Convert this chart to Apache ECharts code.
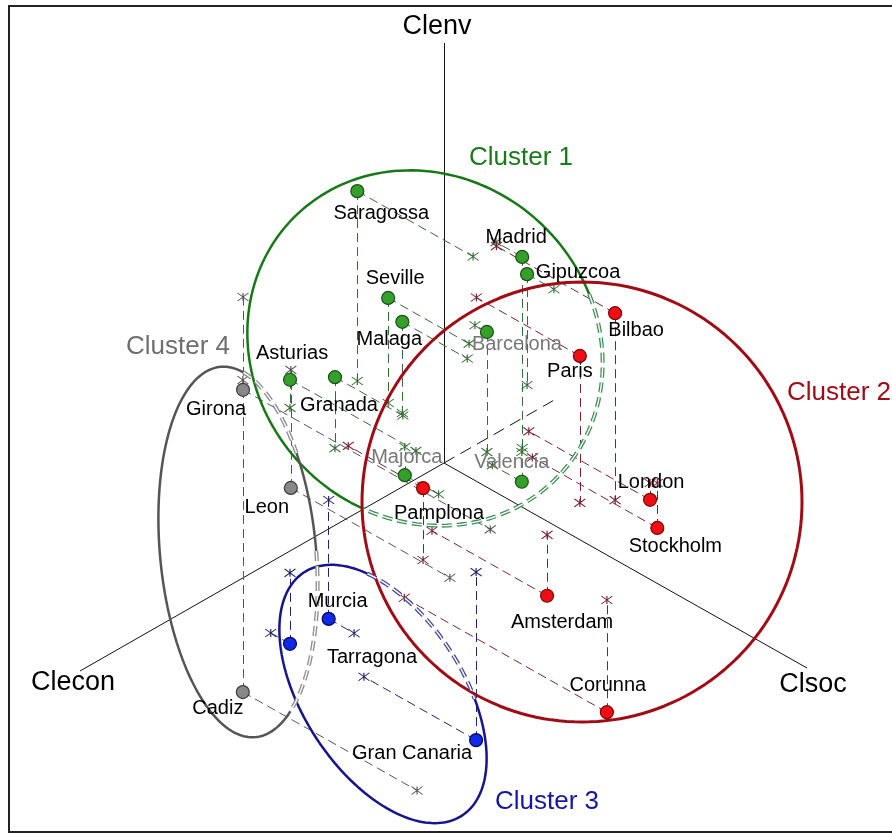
<!DOCTYPE html>
<html>
<head>
<meta charset="utf-8">
<script src="https://cdn.jsdelivr.net/npm/echarts@6/dist/echarts.min.js"></script>
<style>
  html, body { margin: 0; padding: 0; background: #ffffff; }
  #chart { width: 892px; height: 834px; }
</style>
</head>
<body>
<div id="chart"></div>
<script>
// ---- Data: city scores on the three composite indicators ----
const cities = ['Saragossa', 'Madrid', 'Gipuzcoa', 'Seville', 'Malaga', 'Barcelona', 'Asturias', 'Granada',
  'Majorca', 'Valencia', 'Bilbao', 'Paris', 'London', 'Stockholm', 'Pamplona', 'Amsterdam', 'Corunna',
  'Murcia', 'Tarragona', 'Gran Canaria', 'Girona', 'Leon', 'Cadiz'];
const clusterOf = [1, 1, 1, 1, 1, 1, 1, 1, 1, 1, 2, 2, 2, 2, 2, 2, 2, 3, 3, 3, 4, 4, 4];
const clecon = [-0.080, -0.143, -0.302, -0.069, -0.064, -0.085, 0.077, 0.113, 0.015, -0.133,
  -0.144, -0.089, -0.233, -0.243, 0.263, 0.033, 0.109, 0.247, 0.476, 0.220, -0.127, -0.016, 0.074];
const clsoc = [-0.319, 0.072, -0.074, -0.223, -0.179, 0.033, -0.347, -0.187, -0.093, 0.081,
  0.327, 0.285, 0.334, 0.344, 0.206, 0.317, 0.558, -0.070, 0.053, 0.309, -0.681, -0.438, -0.480];
const clenv = [0.452, 0.455, 0.264, 0.250, 0.217, 0.286, 0.067, 0.169, -0.067, -0.071,
  0.445, 0.350, -0.040, -0.107, 0.171, -0.145, -0.267, -0.283, -0.169, -0.400, -0.221, -0.281, -0.743];
const axisNames = ['Clecon', 'Clsoc', 'Clenv'];
const clusterNames = ['Cluster 1', 'Cluster 2', 'Cluster 3', 'Cluster 4'];

// ---- Oblique projection of the 3-D indicator space onto the page ----
const ORIGIN = [444, 463];
const E_VEC = [-364, 208];   // one unit of Clecon
const S_VEC = [363, 205];    // one unit of Clsoc
const V_VEC = [0, -420];     // one unit of Clenv
function proj(e, s, v) {
  return [ORIGIN[0] + e * E_VEC[0] + s * S_VEC[0] + v * V_VEC[0],
          ORIGIN[1] + e * E_VEC[1] + s * S_VEC[1] + v * V_VEC[1]];
}

// ---- Styling ----
const FONT = '"Liberation Sans", Arial, Helvetica, sans-serif';
const dotFill   = ['#34a02a', '#ee0e14', '#1028e8', '#888888'];
const dotBorder = ['#1a4e1a', '#7a0808', '#08085e', '#3e3e3e'];
const guideColor = ['#356b35', '#762434', '#22226a', '#555555'];
const ringColor  = ['#187818', '#a00c16', '#16168a', '#555555'];
const ringDash   = ['#3f8f55', '#a00c16', '#48489a', '#8a8a8a'];
const titleColor = ['#1a7a1a', '#a00c16', '#1616a0', '#6e6e6e'];
const fadedLabels = ['Barcelona', 'Majorca', 'Valencia'];
// label centre relative to its dot, in pixels
const labelOffsets = [[24, 22], [-6, -19], [51, -2], [7, -19], [-13, 18], [30, 13], [2, -26], [4, 28],
  [2, -18], [-10, -19], [21, 17], [-10, 16], [1, -17], [18, 19], [16, 25], [15, 27], [1, -27],
  [9, -17], [82, 14], [-64, 13], [-27, 20], [-24, 20], [-25, 16]];

// cluster outlines: centre, semi-axes, rotation (deg), and which arcs are drawn dashed
const ringCx = [425, 582, 383, 238];
const ringCy = [348, 502, 694, 552];
const ringA = [185, 220, 145, 186];
const ringB = [170, 220, 80, 78];
const ringRot = [45, 0, 57, 84.6];
const ringArcs = [
  [[-65, 68, true], [68, 295, false]],
  [[0, 360, false]],
  [[-139, -68, true], [-68, 221, false]],
  [[-163.5, -120, true], [-120, -88, false], [-88, -28.5, true], [-28.5, 196.5, false]]
];
const clusterTitlePos = [[521, 158], [787, 393], [547, 802], [178, 347]];
const clusterTitleAlign = ['center', 'left', 'center', 'center'];

function ellipsePoints(k, t0, t1) {
  const th = ringRot[k] * Math.PI / 180;
  const ux = Math.cos(th), uy = Math.sin(th), wx = -Math.sin(th), wy = Math.cos(th);
  const n = Math.max(8, Math.round(Math.abs(t1 - t0) / 2));
  const pts = [];
  for (let i = 0; i <= n; i++) {
    const t = (t0 + (t1 - t0) * i / n) * Math.PI / 180;
    const a = ringA[k] * Math.cos(t), b = ringB[k] * Math.sin(t);
    pts.push([ringCx[k] + a * ux + b * wx, ringCy[k] + a * uy + b * wy]);
  }
  return pts;
}

const series = [];

// axes
const o = proj(0, 0, 0);
series.push({
  type: 'lines', coordinateSystem: 'cartesian2d', silent: true, z: 1,
  lineStyle: { color: '#111', width: 1, opacity: 1 },
  data: [
    { coords: [o, proj(1, 0, 0)] },
    { coords: [o, proj(0, 1, 0)] },
    { coords: [o, proj(0, 0, 1)] }
  ]
});
series.push({
  type: 'lines', coordinateSystem: 'cartesian2d', silent: true, z: 1,
  lineStyle: { color: '#111', width: 1, opacity: 1, type: [12, 7] },
  data: [{ coords: [o, proj(-0.3, 0, 0)] }]
});
// axis titles
const axisEnds = [proj(1, 0, 0), proj(0, 1, 0), proj(0, 0, 1)];
const axisTitleOffset = [[-7, 12], [6, 17], [-7, -16]];
series.push({
  type: 'scatter', silent: true, z: 6, symbolSize: 0,
  itemStyle: { opacity: 1 },
  data: axisNames.map((n, i) => ({
    value: axisEnds[i], name: n,
    label: { show: true, position: 'inside', offset: axisTitleOffset[i], formatter: n,
      fontFamily: FONT, fontSize: 27, color: '#000' }
  }))
});

// projection guides: vertical drop to the Clecon-Clsoc floor, and a line parallel to Clsoc to the Clecon-Clenv wall
for (let k = 0; k < 4; k++) {
  const idx = cities.map((c, i) => i).filter(i => clusterOf[i] === k + 1);
  const guides = [], marks = [];
  idx.forEach(i => {
    const dot = proj(clecon[i], clsoc[i], clenv[i]);
    const floor = proj(clecon[i], clsoc[i], 0);
    const wall = proj(clecon[i], 0, clenv[i]);
    guides.push({ coords: [dot, floor] });
    guides.push({ coords: [dot, wall] });
    marks.push(floor, wall);
  });
  series.push({
    type: 'lines', coordinateSystem: 'cartesian2d', silent: true, z: 2,
    lineStyle: { color: guideColor[k], width: 1, opacity: 1, type: [9, 5] },
    data: guides
  });
  series.push({
    type: 'scatter', silent: true, z: 3,
    symbol: 'path://M0,0L12,8M0,8L12,0M6,0L6,8', symbolSize: [11, 8],
    itemStyle: { color: 'rgba(0,0,0,0)', borderColor: guideColor[k], borderWidth: 1, opacity: 1 },
    data: marks
  });
}

// cluster outlines
for (let k = 0; k < 4; k++) {
  ringArcs[k].forEach(([t0, t1, dashed]) => {
    const pts = ellipsePoints(k, t0, t1);
    if (dashed) {
      series.push({ type: 'line', data: pts, showSymbol: false, silent: true, z: 4, animation: false,
        lineStyle: { color: ringDash[k], width: 4, type: [10, 5] } });
      series.push({ type: 'line', data: pts, showSymbol: false, silent: true, z: 4, animation: false,
        lineStyle: { color: '#ffffff', width: 1.4, type: [10, 5] } });
    } else {
      series.push({ type: 'line', data: pts, showSymbol: false, silent: true, z: 4, animation: false,
        lineStyle: { color: ringColor[k], width: k === 1 ? 3 : 2.5 } });
    }
  });
}

// city dots with their names
for (let k = 0; k < 4; k++) {
  const data = [];
  cities.forEach((c, i) => {
    if (clusterOf[i] !== k + 1) return;
    data.push({
      value: proj(clecon[i], clsoc[i], clenv[i]), name: c,
      label: { offset: labelOffsets[i], color: fadedLabels.includes(c) ? '#777777' : '#000000' }
    });
  });
  series.push({
    type: 'scatter', z: 5, symbol: 'circle', symbolSize: 13, data: data,
    itemStyle: { color: dotFill[k], borderColor: dotBorder[k], borderWidth: 1.2, opacity: 1 },
    label: { show: true, position: 'inside', formatter: p => p.name, fontFamily: FONT, fontSize: 20 }
  });
}

const chart = echarts.init(document.getElementById('chart'), null, { renderer: 'canvas' });
chart.setOption({
  backgroundColor: '#ffffff',
  animation: false,
  grid: { left: 0, right: 0, top: 0, bottom: 0 },
  xAxis: { type: 'value', min: 0, max: 892, show: false },
  yAxis: { type: 'value', min: 0, max: 834, inverse: true, show: false },
  graphic: [
    { type: 'rect', shape: { x: 9, y: 6, width: 900, height: 826 }, silent: true, z: 0,
      style: { fill: 'none', stroke: '#222', lineWidth: 2 } }
  ].concat(clusterNames.map((n, k) => ({
    type: 'text', x: clusterTitlePos[k][0], y: clusterTitlePos[k][1], silent: true, z: 10,
    style: { text: n, fill: titleColor[k], font: '26px ' + FONT,
      align: clusterTitleAlign[k], verticalAlign: 'middle' }
  }))),
  series: series
});
</script>
</body>
</html>
